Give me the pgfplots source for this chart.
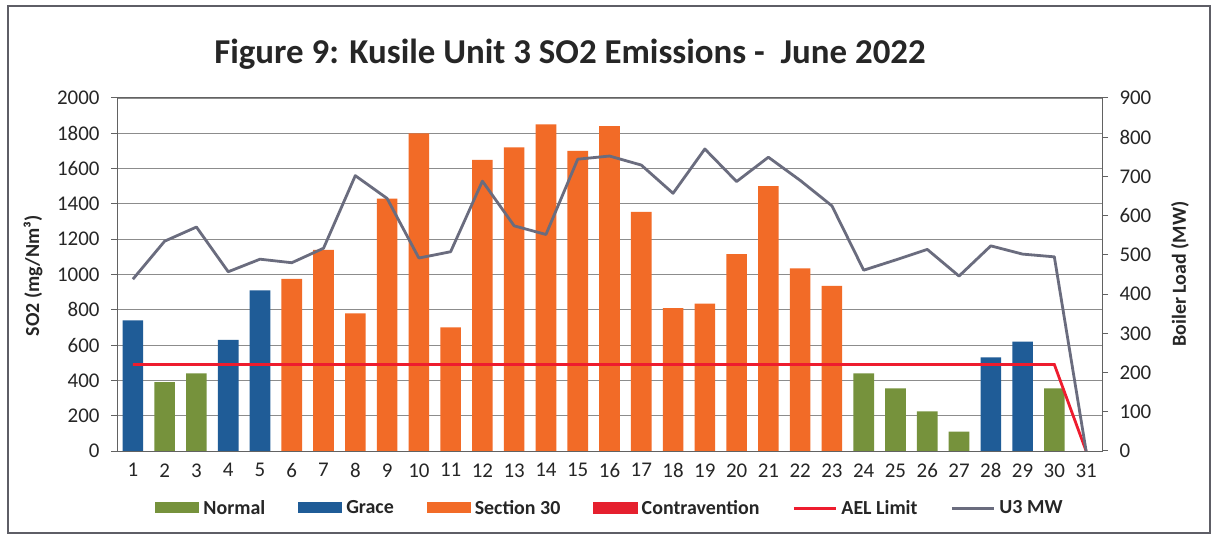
\documentclass[border=0pt]{standalone}
\usepackage{pgfplots}
\pgfplotsset{compat=1.18}
\usepackage{fontspec}
\setmainfont{Carlito}
\definecolor{cnormal}{HTML}{76923C}
\definecolor{cgrace}{HTML}{1F5C97}
\definecolor{csec}{HTML}{F26B27}
\definecolor{ccontra}{HTML}{E5202E}
\definecolor{cael}{HTML}{EE1C2E}
\definecolor{cmw}{HTML}{6A6C7E}
\definecolor{cgrid}{HTML}{8C8C8C}
\definecolor{cframe}{HTML}{5E5E66}
\begin{document}
\begin{tikzpicture}
\useasboundingbox (0,0) rectangle (1214bp,539bp);
\fill[white] (0,0) rectangle (1214bp,539bp);
\draw[cframe, line width=2bp] (8bp,6bp) rectangle (1210bp,533bp);
\node[font=\fontsize{35}{38}\selectfont\bfseries, text=black!85] at (570bp,485bp) {Figure 9: Kusile Unit 3 SO2 Emissions -\ \ June 2022};
\node[rotate=90, font=\fontsize{20}{22}\selectfont\bfseries, text=black!85] at (33bp,263bp) {SO2 (mg/Nm³)};
\node[rotate=90, font=\fontsize{20}{22}\selectfont\bfseries, text=black!85] at (1180bp,265bp) {Boiler Load (MW)};
\begin{axis}[
  at={(117bp,88bp)}, anchor=south west,
  scale only axis, width=985bp, height=353bp,
  xmin=0.5, xmax=31.5, ymin=0, ymax=2000,
  xtick={1,...,31}, ytick={0,200,...,2000},
  axis lines=box,
  axis line style={cgrid!70!black, line width=1bp},
  ymajorgrids, grid style={cgrid, line width=0.9bp},
  xtick style={draw=none},
  ytick style={cgrid!70!black, line width=1bp},
  tick align=outside, major tick length=6bp,
  ytick pos=left,
  /pgf/number format/assume math mode=true,
  /pgf/number format/1000 sep={},
  ticklabel style={font=\fontsize{21}{23}\selectfont, text=black!85},
  yticklabel style={xshift=-8bp},
  xticklabel style={yshift=-3bp},
  legend style={at={(0.5005,-0.1615)}, anchor=center, draw=none, fill=none,
    legend columns=6, font=\fontsize{20}{22}\selectfont\bfseries, text=black!85,
    /tikz/every even column/.append style={column sep=31bp},
    /tikz/every odd column/.append style={column sep=2bp}},
  legend cell align=left,
]
\addplot[ybar, bar width=20.6bp, bar shift=0pt, fill=cnormal, draw=none,
  legend image code/.code={\fill[cnormal] (0bp,-5bp) rectangle (44bp,6bp);}]
  coordinates {(2,390) (3,440) (24,440) (25,355) (26,225) (27,110) (30,355)};
\addlegendentry{Normal}
\addplot[ybar, bar width=20.6bp, bar shift=0pt, fill=cgrace, draw=none,
  legend image code/.code={\fill[cgrace] (0bp,-5bp) rectangle (44bp,6bp);}]
  coordinates {(1,740) (4,630) (5,910) (28,530) (29,620)};
\addlegendentry{Grace}
\addplot[ybar, bar width=20.6bp, bar shift=0pt, fill=csec, draw=none,
  legend image code/.code={\fill[csec] (0bp,-5bp) rectangle (44bp,6bp);}]
  coordinates {(6,975) (7,1140) (8,780) (9,1430) (10,1800) (11,700) (12,1650)
  (13,1720) (14,1850) (15,1700) (16,1840) (17,1355) (18,810) (19,835) (20,1115)
  (21,1500) (22,1035) (23,935)};
\addlegendentry{Section 30}
\addlegendimage{legend image code/.code={\fill[ccontra] (0bp,-5bp) rectangle (44bp,6bp);}}
\addlegendentry{Contravention}
\addplot[cael, line width=2.8bp, mark=none,
  legend image code/.code={\draw[cael, line width=3bp] (0bp,0bp) -- (42bp,0bp);}]
  coordinates {(1,490) (30,490) (31,0)};
\addlegendentry{AEL Limit}
\addlegendimage{legend image code/.code={\draw[cmw, line width=3bp] (0bp,0bp) -- (42bp,0bp);}}
\addlegendentry{U3 MW}
\end{axis}
\begin{axis}[
  at={(117bp,88bp)}, anchor=south west,
  scale only axis, width=985bp, height=353bp,
  xmin=0.5, xmax=31.5, ymin=0, ymax=900,
  ytick={0,100,...,900},
  axis x line=none, axis y line*=right,
  axis line style={cgrid!70!black, line width=1bp},
  ytick style={cgrid!70!black, line width=1bp},
  tick align=outside, major tick length=6bp,
  /pgf/number format/assume math mode=true,
  ticklabel style={font=\fontsize{21}{23}\selectfont, text=black!85},
  yticklabel style={xshift=8bp},
]
\addplot[cmw, line width=2.8bp, mark=none, line join=round]
  coordinates {(1,438) (2,535) (3,571) (4,457) (5,489) (6,480) (7,517) (8,702)
  (9,644) (10,492) (11,508) (12,688) (13,574) (14,552) (15,744) (16,752) (17,729)
  (18,657) (19,770) (20,687) (21,749) (22,690) (23,625) (24,461) (25,487) (26,514)
  (27,446) (28,523) (29,502) (30,495) (31,0)};
\end{axis}
\end{tikzpicture}
\end{document}
